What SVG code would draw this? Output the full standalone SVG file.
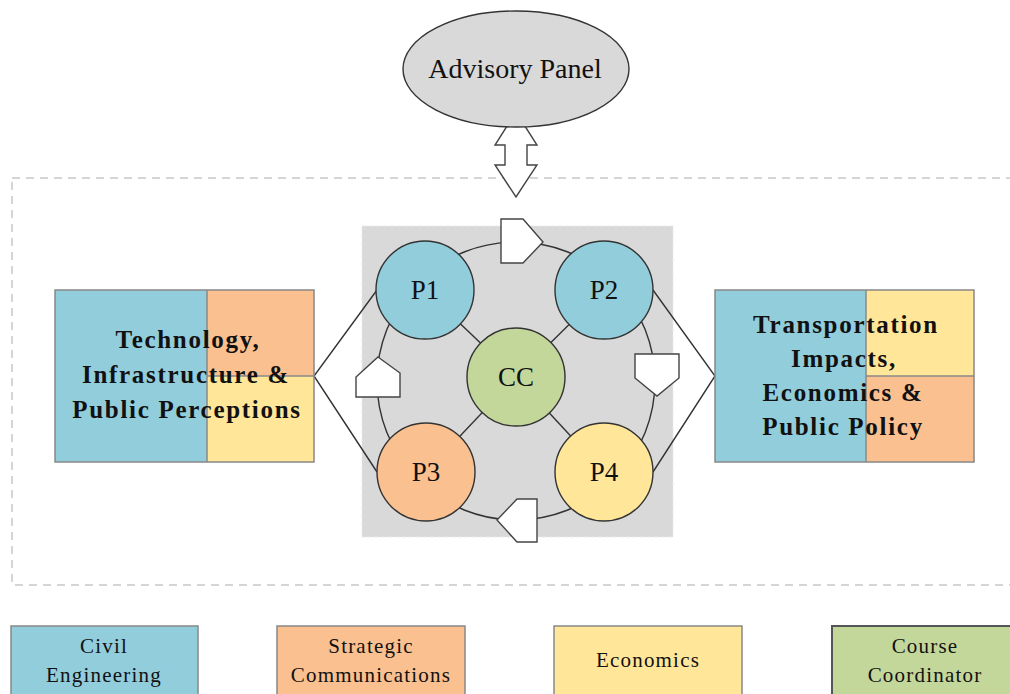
<svg xmlns="http://www.w3.org/2000/svg" width="1010" height="694" viewBox="0 0 1010 694">
<style>
.t{font-family:"Liberation Serif","Times New Roman",serif;fill:#111;text-anchor:middle}
.b{font-weight:bold;font-size:25px;letter-spacing:1.7px}
.p{font-size:27px}
.ap{font-size:28px}
.lg{font-size:21px;letter-spacing:1.2px}
.ln{stroke:#333;stroke-width:1.4;fill:none}
.arr{fill:#fff;stroke:#444;stroke-width:1.4}
.circ{stroke:#333;stroke-width:1.4}
.box{stroke:#888;stroke-width:1.5}
</style>
<rect width="1010" height="694" fill="#fff"/>
<rect x="12" y="178" width="1020" height="407" fill="none" stroke="#c8c8c8" stroke-width="1.5" stroke-dasharray="8,6"/>
<rect x="362" y="226" width="311" height="311" fill="#d9d9d9" stroke="#e8e8e8" stroke-width="1" stroke-dasharray="4,3"/>

<g id="connectors">
<circle cx="516" cy="381" r="139" class="ln"/>
<line x1="516" y1="377" x2="425" y2="290" class="ln"/>
<line x1="516" y1="377" x2="604" y2="290" class="ln"/>
<line x1="516" y1="377" x2="426" y2="472" class="ln"/>
<line x1="516" y1="377" x2="604" y2="472" class="ln"/>
<polyline points="377,290 314,376 377,472" class="ln"/>
<polyline points="653,290 715,376 653,472" class="ln"/>
<polygon class="arr" points="501,219 523,219 543,242 523,263 501,263"/>
<polygon class="arr" points="635,354 679,354 679,378 657,396 635,378"/>
<polygon class="arr" points="537,499 537,542 517,542 497,520 517,499"/>
<polygon class="arr" points="378,357 400,373 400,397 356,397 356,377"/>
<polygon class="arr" points="516,112 537,145 527,145 527,165 537,165 516,197 495,165 505,165 505,145 495,145"/>
</g>

<g id="advisory">
<ellipse cx="516" cy="69" rx="113" ry="58" fill="#d9d9d9" stroke="#333" stroke-width="1.4"/>
<text class="t ap" x="515" y="78">Advisory Panel</text>
</g>

<g id="P1"><circle class="circ" cx="425" cy="290" r="49" fill="#92cddc"/><text class="t p" x="425" y="299">P1</text></g>
<g id="P2"><circle class="circ" cx="604" cy="290" r="49" fill="#92cddc"/><text class="t p" x="604" y="299">P2</text></g>
<g id="P3"><circle class="circ" cx="426" cy="472" r="49" fill="#fac090"/><text class="t p" x="426" y="481">P3</text></g>
<g id="P4"><circle class="circ" cx="604" cy="472" r="49" fill="#ffe699"/><text class="t p" x="604" y="481">P4</text></g>
<g id="CC"><circle class="circ" cx="516" cy="377" r="49" fill="#c4d79b"/><text class="t p" x="516" y="386">CC</text></g>

<g id="left-box">
<rect x="55" y="290" width="152" height="172" fill="#92cddc"/>
<rect x="207" y="290" width="107" height="86" fill="#fac090"/>
<rect x="207" y="376" width="107" height="86" fill="#ffe699"/>
<rect x="55" y="290" width="259" height="172" fill="none" class="box"/>
<line x1="207" y1="290" x2="207" y2="462" class="box"/>
<line x1="207" y1="376" x2="314" y2="376" class="box"/>
<text class="t b" x="188" y="348">Technology,</text>
<text class="t b" x="186" y="383">Infrastructure &amp;</text>
<text class="t b" x="187" y="418">Public Perceptions</text>
</g>

<g id="right-box">
<rect x="715" y="290" width="151" height="172" fill="#92cddc"/>
<rect x="866" y="290" width="108" height="86" fill="#ffe699"/>
<rect x="866" y="376" width="108" height="86" fill="#fac090"/>
<rect x="715" y="290" width="259" height="172" fill="none" class="box"/>
<line x1="866" y1="290" x2="866" y2="462" class="box"/>
<line x1="866" y1="376" x2="974" y2="376" class="box"/>
<text class="t b" x="846" y="333">Transportation</text>
<text class="t b" x="844" y="367">Impacts,</text>
<text class="t b" x="843" y="401">Economics &amp;</text>
<text class="t b" x="843" y="435">Public Policy</text>
</g>

<g id="legend-civil">
<rect x="11" y="626" width="187" height="70" fill="#92cddc" class="box"/>
<text class="t lg" x="104" y="653">Civil</text>
<text class="t lg" x="104" y="682">Engineering</text>
</g>
<g id="legend-strat">
<rect x="277" y="626" width="188" height="70" fill="#fac090" class="box"/>
<text class="t lg" x="371" y="653">Strategic</text>
<text class="t lg" x="371" y="682">Communications</text>
</g>
<g id="legend-econ">
<rect x="554" y="626" width="188" height="70" fill="#ffe699" class="box"/>
<text class="t lg" x="648" y="667">Economics</text>
</g>
<g id="legend-cc">
<rect x="832" y="626" width="188" height="70" fill="#c4d79b" stroke="#555" stroke-width="2"/>
<text class="t lg" x="925" y="653">Course</text>
<text class="t lg" x="925" y="682">Coordinator</text>
</g>
</svg>
